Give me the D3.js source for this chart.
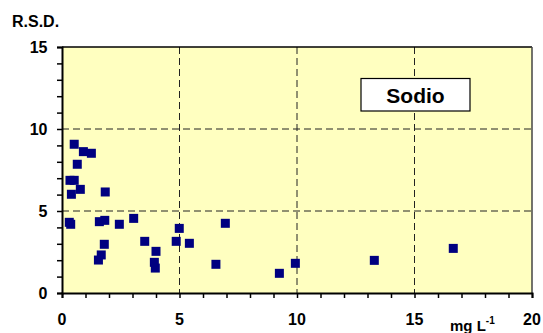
<!DOCTYPE html>
<html><head><meta charset="utf-8">
<script src="https://cdn.jsdelivr.net/npm/d3@7"></script>
<style>body{margin:0;background:#fff}svg{display:block}text{font-family:"Liberation Sans",Arial,sans-serif;font-weight:bold}</style>
</head><body><svg id="c" width="543" height="333"></svg>
<script>
const concentration = [0.52,0.91,1.25,0.65,0.34,0.52,0.78,0.40,1.84,0.31,0.37,1.59,1.82,2.44,3.05,3.52,1.80,1.67,1.55,4.00,3.93,3.97,4.99,4.86,5.42,6.55,6.95,9.25,9.93,13.29,16.65];
const rsd = [9.07,8.62,8.52,7.85,6.87,6.87,6.32,6.02,6.16,4.31,4.19,4.35,4.43,4.19,4.55,3.15,2.97,2.32,2.01,2.54,1.87,1.52,3.94,3.15,3.03,1.75,4.25,1.20,1.81,1.99,2.72];
const xTicks = [0,5,10,15,20];
const yTicks = [0,5,10,15];
const xMinor = d3.range(0,21,1);
const yMinor = d3.range(0,16,1);

const svg = d3.select("#c");
const L=62,R=532,T=47,B=293;
const x = d3.scaleLinear().domain([0,20]).range([L,R]);
const y = d3.scaleLinear().domain([0,15]).range([B,T]);

svg.append("rect").attr("x",L).attr("y",T).attr("width",R-L).attr("height",B-T).attr("fill","#FFFFC0");

// grid
svg.append("g").selectAll("line").data([5,10,15]).join("line")
  .attr("x1",d=>x(d)).attr("x2",d=>x(d)).attr("y1",T).attr("y2",B)
  .attr("stroke","#222").attr("stroke-width",1).attr("stroke-dasharray","7,4");
svg.append("g").selectAll("line").data([5,10]).join("line")
  .attr("x1",L).attr("x2",R).attr("y1",d=>y(d)).attr("y2",d=>y(d))
  .attr("stroke","#222").attr("stroke-width",1).attr("stroke-dasharray","7,4");

// border top/right
svg.append("line").attr("x1",L).attr("x2",R).attr("y1",T).attr("y2",T).attr("stroke","#000").attr("stroke-width",1.5);
svg.append("line").attr("x1",R).attr("x2",R).attr("y1",T).attr("y2",B).attr("stroke","#444").attr("stroke-width",1.5);

// axes
const xa = svg.append("g").attr("transform",`translate(0,${B})`)
  .call(d3.axisBottom(x).tickValues(xMinor).tickSize(5).tickFormat(""));
xa.select(".domain").attr("stroke-width",2);
xa.selectAll(".tick line").attr("stroke-width",1.5);
const ya = svg.append("g").attr("transform",`translate(${L},0)`)
  .call(d3.axisLeft(y).tickValues(yMinor).tickSize(5).tickFormat(""));
ya.select(".domain").attr("stroke-width",2);
ya.selectAll(".tick line").attr("stroke-width",1.5);

svg.append("g").selectAll("text").data(xTicks).join("text")
  .attr("x",d=>x(d)).attr("y",325).attr("text-anchor","middle").attr("font-size",16).text(d=>d);
svg.append("g").selectAll("text").data(yTicks).join("text")
  .attr("x",47.5).attr("y",d=>y(d)+5.5).attr("text-anchor","end").attr("font-size",16).text(d=>d);

svg.append("text").attr("x",12).attr("y",27).attr("font-size",16).text("R.S.D.");
const ml = svg.append("text").attr("x",450).attr("y",331).attr("font-size",15);
ml.append("tspan").text("mg L");
ml.append("tspan").attr("dy",-7).attr("font-size",10).text("-1");

// points
svg.append("g").selectAll("rect").data(concentration.map((c,i)=>[c,rsd[i]])).join("rect")
  .attr("x",d=>x(d[0])-4.5).attr("y",d=>y(d[1])-4.5).attr("width",9).attr("height",9).attr("fill","#000080");

// label box
svg.append("rect").attr("x",361).attr("y",78.5).attr("width",109).attr("height",32.5)
  .attr("fill","#fff").attr("stroke","#000").attr("stroke-width",1.2);
svg.append("text").attr("x",415.5).attr("y",102.5).attr("text-anchor","middle").attr("font-size",21).text("Sodio");
</script></body></html>
